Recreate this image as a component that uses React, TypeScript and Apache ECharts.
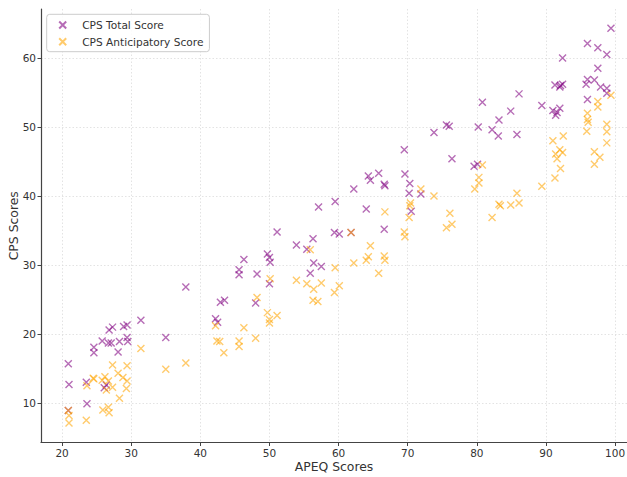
import React, { useEffect, useRef } from "react";
import * as echarts from "echarts";

const apeqTotal = [
  37.9, 20.9, 21.0, 20.9, 23.6, 23.5, 24.6, 24.6, 25.8, 26.1, 26.4, 26.7, 27.1, 26.8, 27.3, 28.1, 28.3, 28.9, 29.4, 29.4, 29.5, 31.4, 35.0,
  57.1, 59.5, 51.1, 53.9, 55.4, 56.3, 59.4, 60.1, 56.4, 55.9, 57.5, 49.7, 50.0, 50.1, 50.0, 48.2, 46.3, 45.6, 45.6, 42.9, 43.5, 42.2, 42.5, 48.0,
  62.2, 64.0, 64.3, 64.6, 65.8, 66.6, 66.7, 66.6, 69.5, 69.6, 70.3, 70.2, 71.9, 70.5, 73.8, 75.6, 76.0, 76.4, 79.6, 80.1, 80.2, 61.8,
  99.4, 96.0, 97.5, 98.8, 92.4, 97.5, 96.0, 95.8, 97.0, 91.3, 92.1, 92.4, 92.0, 97.9, 98.8, 98.8, 96.0, 86.1, 80.8, 84.9, 83.2, 82.2, 83.1, 85.8, 89.4, 91.0, 92.0, 91.4, 91.6,
];
const cpsTotal = [
  26.8, 15.7, 12.7, 8.9, 9.9, 13.0, 18.1, 17.3, 19.0, 12.2, 12.6, 18.7, 18.7, 20.6, 21.0, 17.4, 18.9, 21.1, 21.3, 19.5, 18.9, 22.0, 19.5,
  38.4, 39.2, 34.8, 32.9, 32.3, 33.8, 34.7, 34.5, 30.3, 28.8, 29.8, 31.6, 31.1, 30.4, 27.3, 28.7, 30.8, 29.3, 28.6, 24.6, 24.9, 22.2, 21.7, 24.5,
  41.0, 38.1, 42.9, 42.3, 43.3, 41.7, 41.5, 35.2, 46.7, 43.2, 41.8, 40.4, 40.3, 37.8, 49.2, 50.3, 50.1, 45.4, 44.3, 44.6, 50.0, 34.7,
  64.3, 62.1, 61.5, 60.5, 60.0, 58.5, 56.9, 56.2, 56.8, 56.1, 56.0, 56.2, 55.8, 55.8, 55.6, 54.9, 54.0, 54.8, 53.6, 52.3, 51.0, 49.6, 48.7, 48.9, 53.1, 52.4, 52.7, 51.7, 52.1,
];
const apeqAnt = [
  20.9, 21.0, 21.0, 23.5, 23.6, 24.5, 24.6, 25.8, 26.2, 26.7, 26.4, 27.3, 27.3, 25.9, 26.7, 26.8, 28.3, 28.1, 28.8, 29.4, 29.4, 29.3, 31.4, 35.0, 37.9,
  42.2, 42.4, 42.8, 43.4, 46.3, 45.6, 45.6, 48.0, 48.2, 49.7, 50.0, 50.0, 51.1, 50.1, 53.9, 55.9, 55.4, 56.4, 57.5, 56.3, 57.0, 59.5, 59.4, 60.1,
  61.8, 62.2, 64.0, 64.3, 64.6, 65.8, 66.6, 66.7, 66.7, 69.5, 69.6, 70.2, 70.3, 70.4, 71.9, 73.8, 76.1, 75.6, 76.4,
  99.4, 97.5, 97.5, 96.0, 96.0, 96.1, 95.9, 98.8, 98.8, 98.8, 92.5, 91.0, 97.0, 97.8, 97.0, 92.0, 92.4, 91.4, 91.6, 92.1, 91.3, 80.8, 80.3, 80.3, 79.7, 85.8, 89.4, 83.2, 83.4, 84.9, 86.1, 82.2,
];
const cpsAnt = [
  8.9, 8.2, 7.1, 7.5, 12.5, 13.6, 13.5, 13.3, 13.8, 13.2, 11.9, 12.3, 15.5, 9.0, 9.4, 8.6, 10.7, 14.3, 13.7, 15.4, 13.2, 12.1, 17.9, 14.9, 15.8,
  21.2, 19.0, 18.9, 17.3, 20.9, 19.0, 18.2, 19.4, 25.3, 23.1, 22.1, 21.6, 22.7, 28.0, 27.8, 32.2, 27.3, 26.5, 27.4, 24.9, 24.7, 29.6, 26.0, 27.0,
  34.7, 30.3, 30.7, 31.2, 32.8, 28.8, 31.3, 30.7, 37.7, 34.8, 34.1, 36.9, 38.6, 39.0, 41.0, 40.0, 37.5, 35.4, 35.9,
  54.6, 53.7, 52.9, 52.0, 51.1, 50.7, 49.4, 50.4, 49.3, 47.7, 48.7, 48.0, 46.4, 45.6, 44.6, 46.7, 46.3, 46.1, 45.4, 44.0, 42.6, 44.5, 42.7, 41.9, 41.0, 40.4, 41.4, 38.8, 38.6, 38.7, 39.0, 36.9,
];

const xTicks = [20, 30, 40, 50, 60, 70, 80, 90, 100];
const yTicks = [10, 20, 30, 40, 50, 60];
const seriesNames = ["CPS Total Score", "CPS Anticipatory Score"];

const FONT = "DejaVu Sans";
const XSYM = "path://M0,0L10,10M0,10L10,0";

export default function App() {
  const ref = useRef<HTMLDivElement>(null);
  useEffect(() => {
    if (!ref.current) return;
    const chart = echarts.init(ref.current, undefined, { renderer: "svg" });
    const axisCommon = {
      axisLine: { show: true, lineStyle: { color: "#444", width: 1.2 } },
      axisTick: { show: true, length: 3.5, lineStyle: { color: "#444", width: 1 } },
      splitLine: { show: true, lineStyle: { color: "#dcdcdc", type: [1.5, 2], width: 0.8 } },
    };
    const mk = (name: string, xs: number[], ys: number[], color: string) => ({
      type: "scatter",
      name,
      data: xs.map((x, i) => [x, ys[i]]),
      symbol: XSYM,
      symbolSize: 7,
      itemStyle: { color: color, borderColor: color, borderWidth: 1.4 },
      emphasis: { disabled: true },
    });
    chart.setOption({
      animation: false,
      textStyle: { fontFamily: FONT },
      grid: { left: 41, right: 0, top: 9, bottom: 34.5, containLabel: false, outerBoundsMode: "none" },
      legend: {
        orient: "vertical",
        left: 46.7,
        top: 14.3,
        padding: [4.7, 6, 4, 11.5],
        itemGap: 4.7,
        itemWidth: 7,
        itemHeight: 7,
        borderColor: "#cccccc",
        borderWidth: 1,
        borderRadius: 3,
        backgroundColor: "rgba(255,255,255,0.85)",
        textStyle: { fontFamily: FONT, fontSize: 10.6, color: "#333", lineHeight: 12, padding: [0, 0, 0, 11] },
        data: seriesNames,
      },
      xAxis: {
        type: "value",
        min: 16.95,
        max: 101.72,
        name: "APEQ Scores",
        nameLocation: "middle",
        nameGap: 23.5,
        nameMoveOverlap: false,
        nameTextStyle: { fontFamily: FONT, fontSize: 12.4, color: "#333", verticalAlign: "middle" },
        ...axisCommon,
        axisTick: { ...axisCommon.axisTick, customValues: xTicks },
        axisLabel: { customValues: xTicks, margin: 5, fontFamily: FONT, fontSize: 10.5, color: "#333" },
      },
      yAxis: {
        type: "value",
        min: 4.28,
        max: 67.1,
        name: "CPS Scores",
        nameLocation: "middle",
        nameGap: 28,
        nameRotate: 90,
        nameMoveOverlap: false,
        nameTextStyle: { fontFamily: FONT, fontSize: 12.4, color: "#333", verticalAlign: "middle" },
        ...axisCommon,
        axisTick: { ...axisCommon.axisTick, customValues: yTicks },
        axisLabel: { customValues: yTicks, margin: 5, fontFamily: FONT, fontSize: 10.5, color: "#333" },
      },
      series: [
        mk(seriesNames[0], apeqTotal, cpsTotal, "rgba(128,0,128,0.72)"),
        mk(seriesNames[1], apeqAnt, cpsAnt, "rgba(255,165,0,0.72)"),
      ],
    });
    return () => chart.dispose();
  }, []);
  return (
    <div
      ref={ref}
      style={{ position: "fixed", left: 0, top: 0, width: 627, height: 477, background: "#fff" }}
    />
  );
}
